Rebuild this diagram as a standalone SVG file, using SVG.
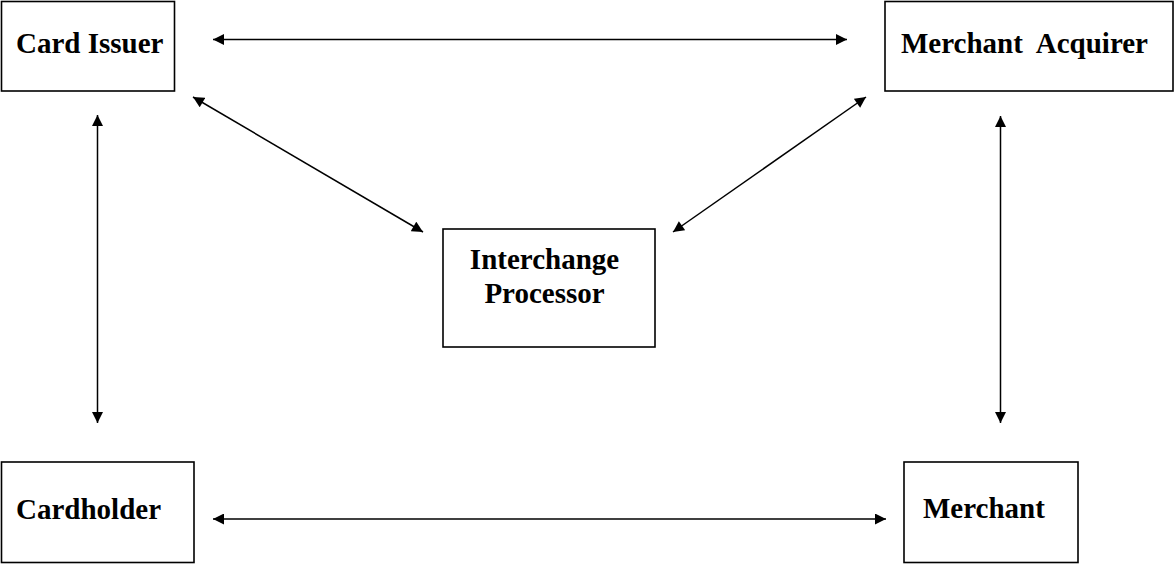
<svg xmlns="http://www.w3.org/2000/svg" width="1174" height="564" viewBox="0 0 1174 564">
<style>
.box{fill:#fff;stroke:#000;stroke-width:1.6}
.lbl{font-family:"Liberation Serif","Times New Roman",serif;font-weight:bold;font-size:29px;fill:#000;white-space:pre}
.con{stroke:#000;stroke-width:1.5;fill:none;marker-start:url(#ah);marker-end:url(#ah)}
</style>
<defs>
<marker id="ah" viewBox="0 0 10 10" refX="10" refY="5" markerWidth="12" markerHeight="11" markerUnits="userSpaceOnUse" orient="auto-start-reverse">
<path d="M0,0 L10,5 L0,10 Z" fill="#000"/>
</marker>
</defs>
<rect width="1174" height="564" fill="#fff"/>
<g id="connectors">
<line class="con" x1="213" y1="39.5" x2="847" y2="39.5"/>
<line class="con" x1="213" y1="519" x2="886" y2="519"/>
<line class="con" x1="97.5" y1="115" x2="97.5" y2="423"/>
<line class="con" x1="1000.5" y1="116" x2="1000.5" y2="423"/>
<line class="con" x1="193" y1="97" x2="423" y2="232"/>
<line class="con" x1="866" y1="97" x2="673" y2="232"/>
</g>
<g id="card-issuer">
<rect class="box" x="1.5" y="1.5" width="173" height="89.5"/>
<text class="lbl" x="16" y="53">Card Issuer</text>
</g>
<g id="merchant-acquirer">
<rect class="box" x="885" y="1.5" width="288" height="89.5"/>
<text class="lbl" x="901" y="53">Merchant  Acquirer</text>
</g>
<g id="interchange-processor">
<rect class="box" x="443" y="229" width="212" height="118"/>
<text class="lbl" x="544.5" y="269" text-anchor="middle">Interchange</text>
<text class="lbl" x="544.5" y="303" text-anchor="middle">Processor</text>
</g>
<g id="cardholder">
<rect class="box" x="1.5" y="462" width="192.5" height="100.5"/>
<text class="lbl" x="16" y="519">Cardholder</text>
</g>
<g id="merchant">
<rect class="box" x="904" y="462" width="174" height="100.5"/>
<text class="lbl" x="923" y="518">Merchant</text>
</g>
</svg>
